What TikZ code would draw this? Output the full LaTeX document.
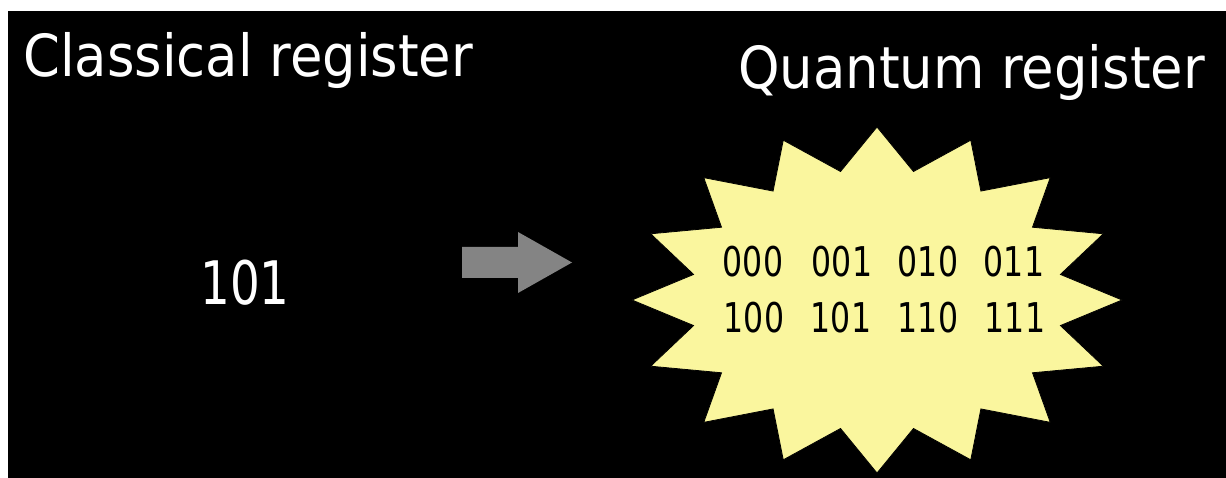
\documentclass[tikz,border=0pt]{standalone}
\usepackage{fontspec}
\setmainfont{DejaVu Sans}
\definecolor{burst}{RGB}{250,246,158}
\definecolor{arrowgray}{RGB}{132,132,132}
\begin{document}
\begin{tikzpicture}[x=1pt,y=-1pt,
  title/.style={anchor=base west, inner sep=0, text=white, font=\fontsize{58}{60}\selectfont},
  bits/.style={inner sep=0, text=black, font=\fontsize{41}{44}\selectfont},
  single/.style={inner sep=0, text=white, font=\fontsize{60}{62}\selectfont}]
\useasboundingbox (0,0) rectangle (1226,478);
\fill[white] (0,0) rectangle (1226,478);
\fill[black] (8,11) rectangle (1226,478);
% titles
\node[title] (classical) at (23,77) {\scalebox{0.91}[1]{Classical register}};
\node[title] (quantum) at (738,89) {\scalebox{0.91}[1]{Quantum register}};
% classical value
\node[single] (val) at (245,282.5) {\scalebox{0.78}[1]{101}};
% arrow
\fill[arrowgray] (462,247) -- (518,247) -- (518,232) -- (572,262.5) -- (518,293) -- (518,278) -- (462,278) -- cycle;
% starburst
\path[fill=burst, draw=black, line width=0.8pt] (1122,300)
  \foreach \k in {0,...,15}{
    -- ({877+187*cos(\k*22.5+11.25)},{300-131*sin(\k*22.5+11.25)})
    -- ({877+245*cos((\k+1)*22.5)},{300-173*sin((\k+1)*22.5)})
  } -- cycle;
% states
\node[bits] (s000) at (753,262) {\scalebox{0.77}[1]{000}};
\node[bits] (s001) at (842,262) {\scalebox{0.77}[1]{001}};
\node[bits] (s010) at (928,262) {\scalebox{0.77}[1]{010}};
\node[bits] (s011) at (1014,262) {\scalebox{0.77}[1]{011}};
\node[bits] (s100) at (754,317.5) {\scalebox{0.77}[1]{100}};
\node[bits] (s101) at (841,317.5) {\scalebox{0.77}[1]{101}};
\node[bits] (s110) at (928,317.5) {\scalebox{0.77}[1]{110}};
\node[bits] (s111) at (1015,317.5) {\scalebox{0.77}[1]{111}};
\end{tikzpicture}
\end{document}
